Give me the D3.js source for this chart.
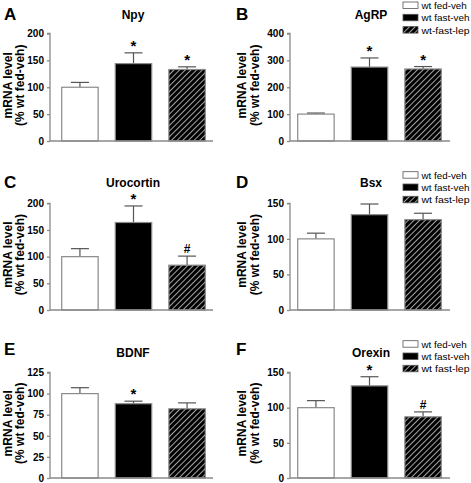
<!DOCTYPE html>
<html><head><meta charset="utf-8">
<script src="https://cdn.jsdelivr.net/npm/d3@7"></script>
<style>body{margin:0;background:#fff}svg{display:block;font-family:"Liberation Sans",Arial,sans-serif}</style>
</head><body><svg id="c" width="471" height="483"></svg>
<script>
const groups = ["wt fed-veh","wt fast-veh","wt fast-lep"];
const genes = ["Npy","AgRP","Urocortin","Bsx","BDNF","Orexin"];
const letters = ["A","B","C","D","E","F"];
const npyMean = [100,144,133], npySem = [9,20,5];
const agrpMean = [100,275,268], agrpSem = [4,34,9];
const uroMean = [100,164,84], uroSem = [15,31,17];
const bsxMean = [100,134,127], bsxSem = [8,15,9];
const bdnfMean = [100,88,82], bdnfSem = [7,3,7];
const orexMean = [100,131,87], orexSem = [10,13,7];
const means = [npyMean,agrpMean,uroMean,bsxMean,bdnfMean,orexMean];
const sems = [npySem,agrpSem,uroSem,bsxSem,bdnfSem,orexSem];
const yMax = [200,400,200,150,125,150];
const yStep = [50,100,50,50,25,50];
const marks = [["","*","*"],["","*","*"],["","*","#"],["","",""],["","*",""],["","*","#"]];
const legendLabels = {1:["wt fed-veh","wt fast-veh","wt-fast-lep"],3:["wt fed-veh","wt fast-veh","wt fast-lep"],5:["wt fed-veh","wt fast-veh","wt fast-lep"]};

const svg = d3.select("#c");
const defs = svg.append("defs");
const pat = defs.append("pattern").attr("id","hatch").attr("patternUnits","userSpaceOnUse")
  .attr("width",4).attr("height",4).attr("patternTransform","rotate(45)");
pat.append("rect").attr("width",4).attr("height",4).attr("fill","#000");
pat.append("line").attr("x1",0).attr("y1",0).attr("x2",0).attr("y2",4).attr("stroke","#fff").attr("stroke-width",1.3);

const cols = [{ax:50, xEnd:213, band:[51,216], lab1:12, lab2:24, letter:4, title:133},
              {ax:290, xEnd:450, band:[287,452], lab1:246, lab2:259, letter:236, title:371}];
const rows = [{y0:141, yTop:33.5}, {y0:310, yTop:203.3}, {y0:478, yTop:372.5}];
const titleY = [19, 187, 357];
const letterY = [20, 188, 355];
const fills = ["#fff","#000","url(#hatch)"];
const axisColor = "#8a8a8a", errColor = "#555";

genes.forEach((g,i)=>{
  const c = cols[i%2], r = rows[Math.floor(i/2)];
  const gp = svg.append("g");
  const x = d3.scaleBand().domain(groups).range(c.band).paddingInner(0.32).paddingOuter(0.2);
  const y = d3.scaleLinear().domain([0,yMax[i]]).range([r.y0, r.yTop]);
  groups.forEach((k,j)=>{
    const v = means[i][j], e = sems[i][j];
    const bx = x(k), bw = x.bandwidth(), cx = bx+bw/2;
    gp.append("line").attr("x1",cx).attr("x2",cx).attr("y1",y(v)).attr("y2",y(v+e)).attr("stroke",errColor).attr("stroke-width",1.2);
    gp.append("line").attr("x1",cx-9).attr("x2",cx+9).attr("y1",y(v+e)).attr("y2",y(v+e)).attr("stroke",errColor).attr("stroke-width",1.2);
    gp.append("rect").attr("x",bx).attr("y",y(v)).attr("width",bw).attr("height",y(0)-y(v))
      .attr("fill",fills[j]).attr("stroke",axisColor).attr("stroke-width",1.2);
    const m = marks[i][j];
    if(m==="*") gp.append("text").attr("x",cx).attr("y",y(v+e)-2).attr("text-anchor","middle")
      .attr("font-size",15).attr("font-weight","bold").text("*");
    if(m==="#") gp.append("text").attr("x",cx).attr("y",y(v+e)-3).attr("text-anchor","middle")
      .attr("font-size",12).attr("font-weight","bold").text("#");
  });
  const ya = d3.axisLeft(y).tickValues(d3.range(0,yMax[i]+0.1,yStep[i])).tickSize(3).tickPadding(3);
  const ag = gp.append("g").attr("transform",`translate(${c.ax},0)`).call(ya);
  ag.select(".domain").attr("stroke",axisColor).attr("stroke-width",1.3).attr("d",`M-3,${r.yTop}H0V${r.y0}`);
  ag.selectAll(".tick line").attr("stroke",axisColor).attr("stroke-width",1.3);
  ag.selectAll(".tick text").attr("font-size",10).attr("font-weight","bold").attr("fill","#000")
    .attr("font-family","Liberation Sans, Arial, sans-serif");
  gp.append("line").attr("x1",c.ax).attr("x2",c.xEnd).attr("y1",r.y0).attr("y2",r.y0).attr("stroke",axisColor).attr("stroke-width",1.3);
  const yc = (r.y0 + r.yTop)/2 - 2;
  gp.append("text").attr("transform",`translate(${c.lab1},${yc}) rotate(-90)`).attr("text-anchor","middle")
    .attr("font-size",12).attr("font-weight","bold").text("mRNA level");
  gp.append("text").attr("transform",`translate(${c.lab2},${yc}) rotate(-90)`).attr("text-anchor","middle")
    .attr("font-size",12).attr("font-weight","bold").text("(% wt fed-veh)");
  gp.append("text").attr("x",c.title).attr("y",titleY[Math.floor(i/2)]).attr("text-anchor","middle")
    .attr("font-size",12).attr("font-weight","bold").text(g);
  gp.append("text").attr("x",c.letter).attr("y",letterY[Math.floor(i/2)])
    .attr("font-size",17).attr("font-weight","bold").text(letters[i]);
  if(legendLabels[i]){
    const ly0 = [2, 171.7, 340.7][Math.floor(i/2)];
    legendLabels[i].forEach((t,j)=>{
      const ly = ly0 + j*12.3;
      gp.append("rect").attr("x",403).attr("y",ly).attr("width",15).attr("height",6.5)
        .attr("fill",fills[j]).attr("stroke","#555").attr("stroke-width",0.8);
      gp.append("text").attr("x",421.5).attr("y",ly+7).attr("font-size",9.8)
        .attr("textLength", t.length>10 ? 48 : null).attr("lengthAdjust","spacingAndGlyphs").text(t);
    });
  }
});
</script></body></html>
